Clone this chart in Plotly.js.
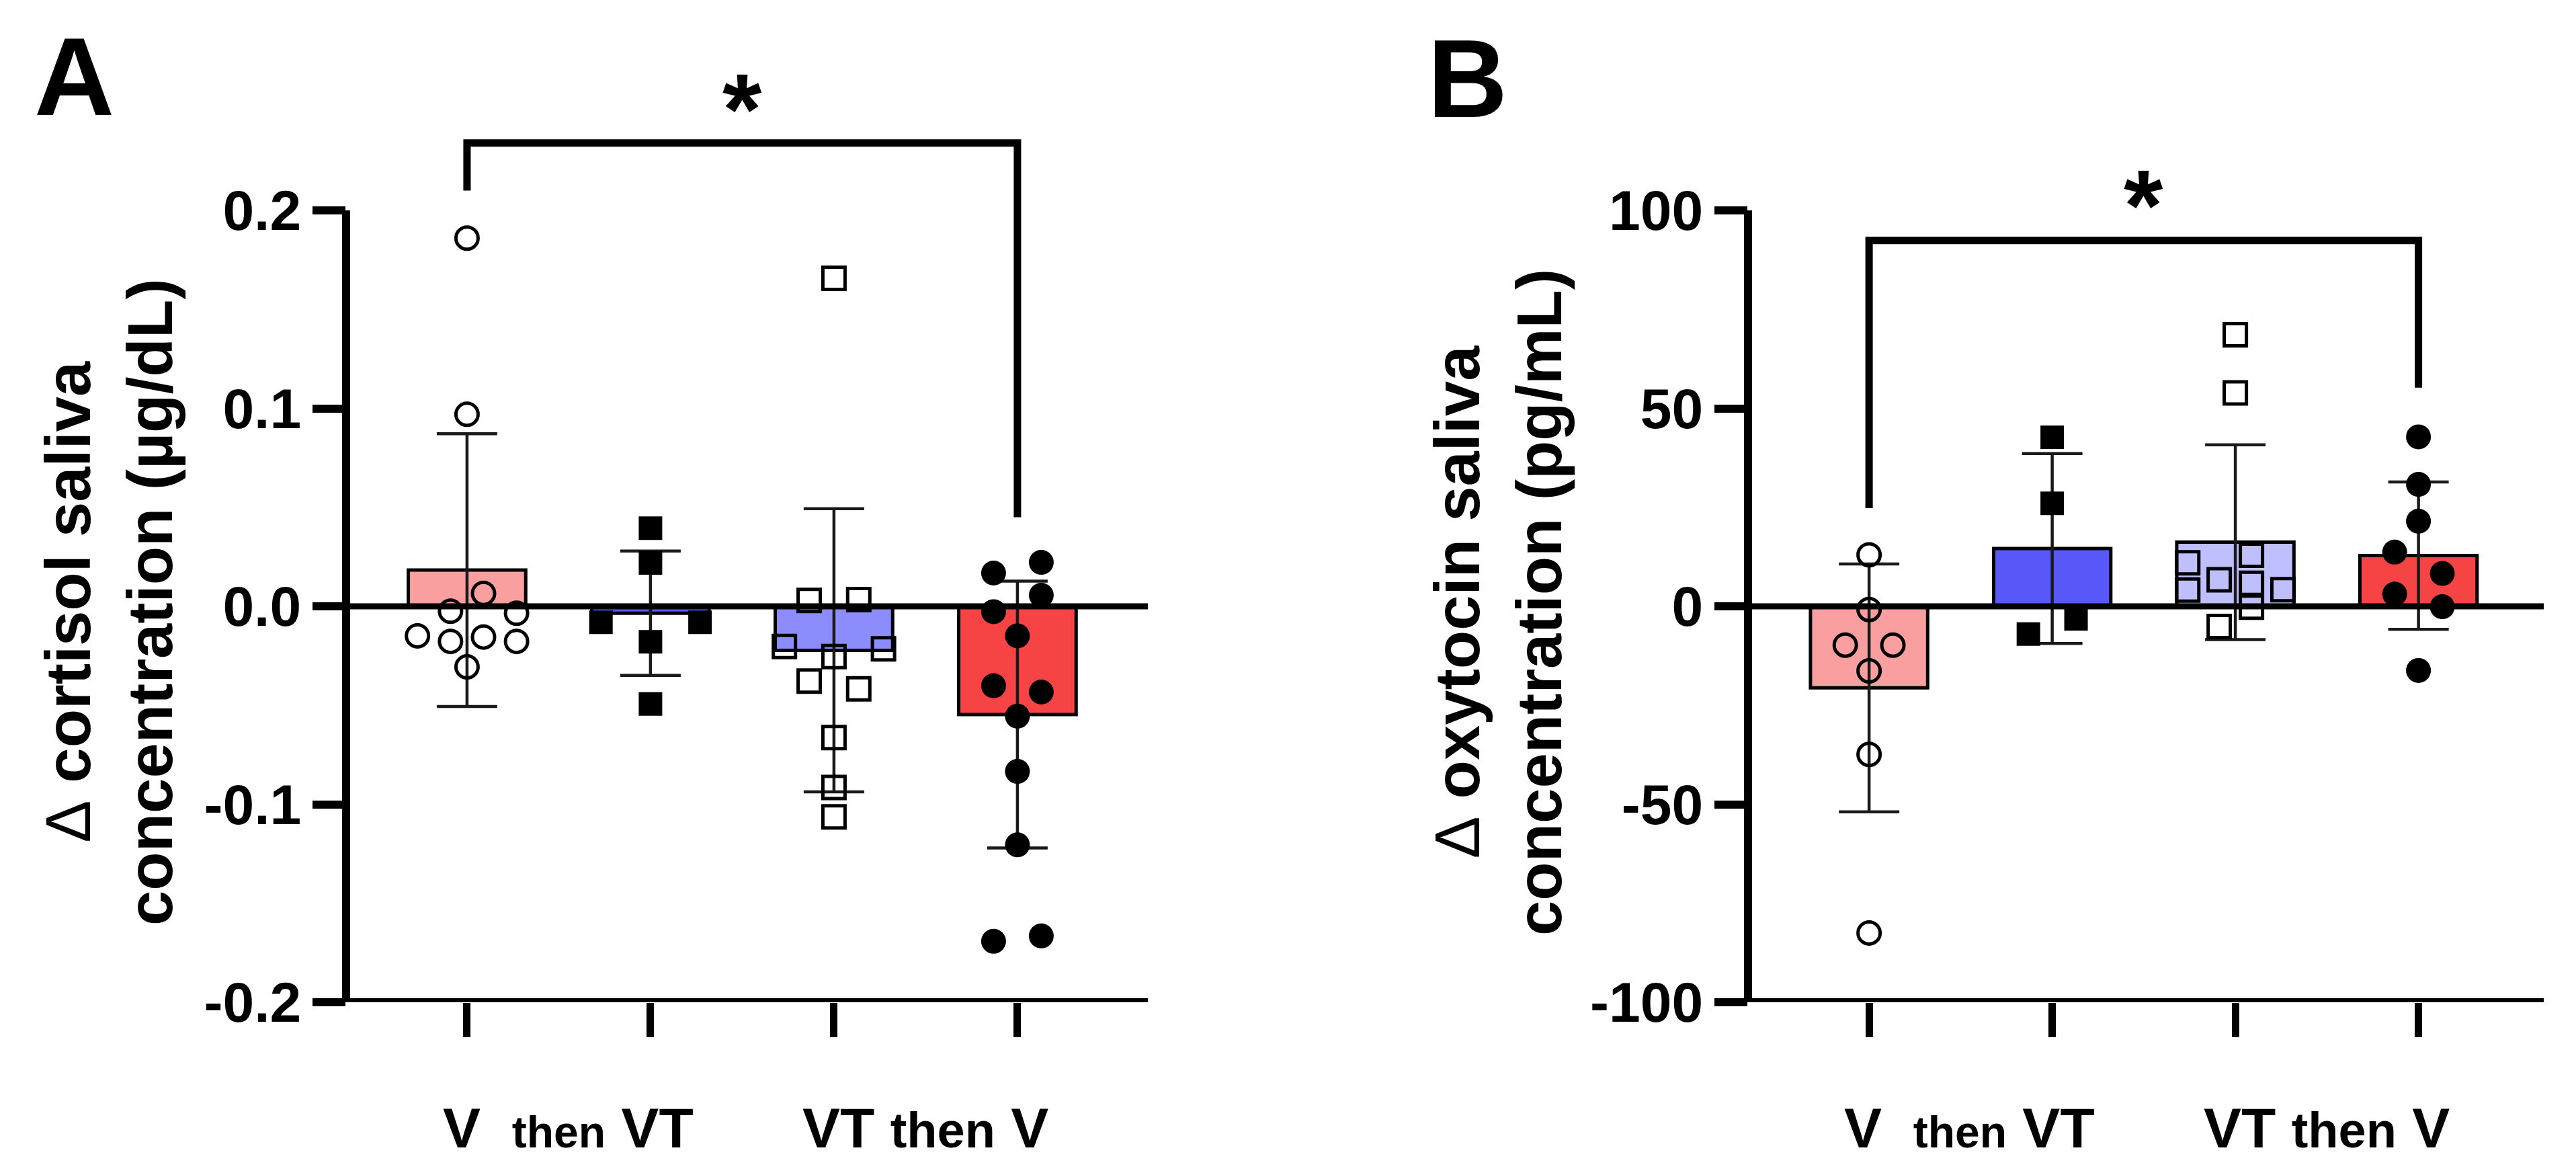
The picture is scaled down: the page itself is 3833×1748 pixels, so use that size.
<!DOCTYPE html>
<html>
<head>
<meta charset="utf-8">
<script src="https://cdn.plot.ly/plotly-3.0.1.min.js"></script>
<style>
  html, body { margin: 0; padding: 0; background: #fff; }
  #chart { width: 3833px; height: 1748px; }
</style>
</head>
<body>
<div id="chart"></div>
<script>
/* saliva hormone changes, two crossover orders */
var W = 3833, H = 1748;

// category order on both panels: V, VT (V then VT) | VT, V (VT then V)
var catPos = [0, 1, 2, 3];
var groupLabels = ['V\u00a0\u00a0<span style="font-size:66px">then</span> VT', 'VT <span style="font-size:74px">then</span> V'];
var groupCenters = [0.55, 2.5];

// panel A: cortisol (ug/dL)
var cortMean = [0.0183, -0.0035, -0.0222, -0.0547];
var cortSD = [0.0689, 0.0314, 0.0715, 0.0674];
var cortV1 = [0.186, 0.097, 0.0065, -0.0025, -0.0035, -0.0149, -0.0177, -0.0155, -0.0177, -0.0306];
var cortV1Off = [0, 0, 0.09, -0.09, 0.27, -0.27, -0.09, 0.09, 0.27, 0];
var cortVT1 = [0.0395, 0.0219, -0.0081, -0.0081, -0.0179, -0.0493];
var cortVT1Off = [0, 0, -0.27, 0.27, 0, 0];
var cortVT2 = [0.1657, 0.003, 0.0034, -0.0203, -0.0215, -0.0254, -0.0378, -0.0417, -0.0663, -0.0915, -0.1064];
var cortVT2Off = [0, -0.135, 0.135, -0.27, 0.27, 0, -0.135, 0.135, 0, 0, 0];
var cortV2 = [0.0222, 0.0168, 0.0056, -0.0027, -0.0149, -0.0401, -0.0433, -0.0555, -0.0834, -0.1205, -0.1692, -0.1665];
var cortV2Off = [0.13, -0.13, 0.13, -0.13, 0, -0.13, 0.13, 0, 0, 0, -0.13, 0.13];

// panel B: oxytocin (pg/mL)
var oxyMean = [-20.6, 14.6, 16.2, 12.8];
var oxySD = [31.3, 24.0, 24.6, 18.6];
var oxyV1 = [13.0, -0.8, -9.8, -9.8, -16.3, -37.4, -82.5];
var oxyV1Off = [0, 0, -0.13, 0.13, 0, 0, 0];
var oxyVT1 = [42.7, 26.0, -3.2, -7.0];
var oxyVT1Off = [0, 0, 0.13, -0.13];
var oxyVT2 = [68.6, 53.9, 12.9, 11.0, 6.7, 5.8, 4.2, 4.1, -0.2, -5.1];
var oxyVT2Off = [0, 0, 0.088, -0.26, -0.088, 0.088, 0.26, -0.26, 0.088, -0.088];
var oxyV2 = [42.8, 30.8, 21.5, 13.7, 8.3, 3.1, -0.1, -16.2];
var oxyV2Off = [0, 0, 0, -0.13, 0.13, -0.13, 0.13, 0];

var cortTicks = [-0.2, -0.1, 0, 0.1, 0.2];
var cortTickText = ['-0.2', '-0.1', '0.0', '0.1', '0.2'];
var oxyTicks = [-100, -50, 0, 50, 100];
var oxyTickText = ['-100', '-50', '0', '50', '100'];

var barColorsA = ['#FA9F9F', '#5858F8', '#8C8CFD', '#F64343'];
var barColorsB = ['#FA9F9F', '#5858F8', '#BFBFFD', '#F64343'];

var FONT = 'Liberation Sans, Arial, sans-serif';

function px(x) { return x / W; }
function py(y) { return 1 - y / H; }

function jitter(cat, offs) {
    return offs.map(function (o) { return cat + o; });
}

function pointTrace(ax, ay, cat, vals, offs, symbol) {
    var open = symbol.indexOf('open') >= 0;
    var isCircle = symbol.indexOf('circle') === 0;
    return {
        x: jitter(cat, offs),
        y: vals,
        xaxis: ax, yaxis: ay,
        type: 'scatter',
        mode: 'markers',
        cliponaxis: false,
        marker: {
            symbol: symbol,
            color: 'black',
            size: open ? 33 : (isCircle ? 37 : 35),
            line: {width: open ? 5 : 0, color: 'black'}
        },
        showlegend: false
    };
}

function barTrace(ax, ay, means, sd, colors) {
    return {
        x: catPos,
        y: means,
        xaxis: ax, yaxis: ay,
        type: 'bar',
        width: 0.64,
        marker: {color: colors, line: {color: 'black', width: 5}},
        error_y: {type: 'data', array: sd, visible: true, thickness: 4.5, width: 45, color: '#1a1a1a'},
        showlegend: false
    };
}

var data = [
    barTrace('x', 'y', cortMean, cortSD, barColorsA),
    pointTrace('x', 'y', 0, cortV1, cortV1Off, 'circle-open'),
    pointTrace('x', 'y', 1, cortVT1, cortVT1Off, 'square'),
    pointTrace('x', 'y', 2, cortVT2, cortVT2Off, 'square-open'),
    pointTrace('x', 'y', 3, cortV2, cortV2Off, 'circle'),
    barTrace('x2', 'y2', oxyMean, oxySD, barColorsB),
    pointTrace('x2', 'y2', 0, oxyV1, oxyV1Off, 'circle-open'),
    pointTrace('x2', 'y2', 1, oxyVT1, oxyVT1Off, 'square'),
    pointTrace('x2', 'y2', 2, oxyVT2, oxyVT2Off, 'square-open'),
    pointTrace('x2', 'y2', 3, oxyV2, oxyV2Off, 'circle')
];

var yDomain = [py(1491), py(77.4)];

function xAxis(domain, range) {
    return {
        domain: domain, range: range,
        showgrid: false, zeroline: false, showline: false,
        tickmode: 'array', tickvals: catPos, showticklabels: false,
        ticks: 'outside', ticklen: 51, tickwidth: 11, tickcolor: 'black',
        fixedrange: true
    };
}
function yAxis(range, vals, text) {
    return {
        domain: yDomain, range: range,
        showgrid: false, zeroline: false, showline: false,
        tickmode: 'array', tickvals: vals, ticktext: text,
        ticks: 'outside', ticklen: 49, tickwidth: 12, tickcolor: 'black',
        tickfont: {family: FONT, size: 84, color: 'black', weight: 'bold'},
        fixedrange: true
    };
}

function panelShapes(xa, ya, ylo, yhi, br) {
    var xd = xa + ' domain';
    var line = function (w) { return {color: 'black', width: w}; };
    return [
        {type: 'line', xref: xd, yref: ya, x0: 0, x1: 1, y0: ylo, y1: ylo, line: line(12)},
        {type: 'line', xref: xd, yref: ya, x0: 0, x1: 0, y0: ylo, y1: yhi, line: line(12)},
        {type: 'line', xref: xd, yref: ya, x0: 0, x1: 1, y0: 0, y1: 0, line: line(9)},
        {type: 'path', xref: xa, yref: ya, line: line(11),
         path: 'M 0,' + br[1] + ' L 0,' + br[0] + ' L 3,' + br[0] + ' L 3,' + br[2]}
    ];
}

// bracket: [top, left leg end, right leg end]
var bracketA = [0.234, 0.210, 0.045];
var bracketB = [92.4, 24.8, 55.2];

var shapes = panelShapes('x', 'y', -0.2, 0.2, bracketA)
    .concat(panelShapes('x2', 'y2', -100, 100, bracketB));

function ann(o) {
    var base = {showarrow: false, xanchor: 'center', yanchor: 'middle',
                font: {family: FONT, color: 'black', weight: 'bold', size: 84}};
    for (var k in o) base[k] = o[k];
    return base;
}

var annotations = [
    ann({xref: 'paper', yref: 'paper', x: px(110), y: py(114), text: 'A', font: {family: FONT, size: 165, color: 'black', weight: 'bold'}}),
    ann({xref: 'paper', yref: 'paper', x: px(2183), y: py(117), text: 'B', font: {family: FONT, size: 165, color: 'black', weight: 'bold'}}),
    ann({xref: 'paper', yref: 'paper', x: px(162), y: py(896), textangle: -90,
         text: '<span style="font-weight:normal">\u0394</span> cortisol saliva<br>concentration (\u00b5g/dL)',
         font: {family: FONT, size: 94, color: 'black', weight: 'bold'}}),
    ann({xref: 'paper', yref: 'paper', x: px(2229), y: py(896), textangle: -90,
         text: '<span style="font-weight:normal">\u0394</span> oxytocin saliva<br>concentration (pg/mL)',
         font: {family: FONT, size: 94, color: 'black', weight: 'bold'}}),
    ann({xref: 'x', yref: 'y', x: 1.5, y: 0.251, text: '*', font: {family: FONT, size: 150, color: 'black', weight: 'bold'}}),
    ann({xref: 'x2', yref: 'y2', x: 1.5, y: 101.2, text: '*', font: {family: FONT, size: 150, color: 'black', weight: 'bold'}})
];
groupLabels.forEach(function (t, i) {
    annotations.push(ann({xref: 'x', yref: 'paper', x: groupCenters[i], y: py(1678), text: t}));
    annotations.push(ann({xref: 'x2', yref: 'paper', x: groupCenters[i], y: py(1678), text: t}));
});

var layout = {
    width: W, height: H,
    margin: {t: 0, r: 0, b: 0, l: 0},
    paper_bgcolor: 'white', plot_bgcolor: 'white',
    font: {family: FONT, color: 'black'},
    showlegend: false,
    barmode: 'overlay',
    xaxis: xAxis([px(515), px(1708)], [-0.659, 3.711]),
    yaxis: yAxis([-0.2, 0.28], cortTicks, cortTickText),
    xaxis2: xAxis([px(2601), px(3785)], [-0.661, 3.684]),
    yaxis2: yAxis([-100, 140], oxyTicks, oxyTickText),
    shapes: shapes,
    annotations: annotations
};
layout.xaxis2.anchor = 'y2';
layout.yaxis2.anchor = 'x2';

Plotly.newPlot('chart', data, layout, {staticPlot: true, displayModeBar: false});
</script>
</body>
</html>
